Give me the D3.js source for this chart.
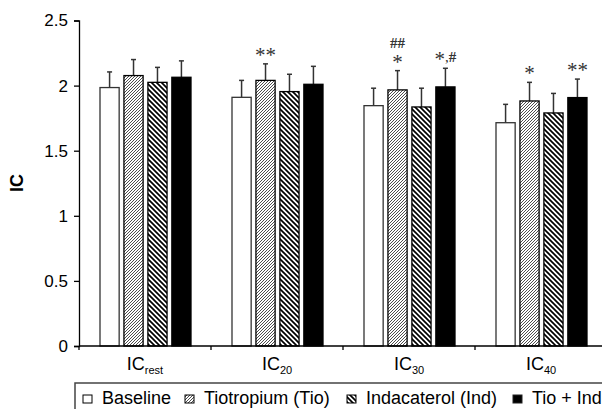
<!DOCTYPE html>
<html>
<head>
<meta charset="utf-8">
<script src="https://cdn.jsdelivr.net/npm/d3@7"></script>
<style>
  body { margin: 0; background: #fff; }
  svg { display: block; font-family: "Liberation Sans", Arial, sans-serif; }
</style>
</head>
<body>
<script>
const categories = ["rest", "20", "30", "40"];
const series = ["Baseline", "Tiotropium (Tio)", "Indacaterol (Ind)", "Tio + Ind"];
const baseline = [1.985, 1.91, 1.846, 1.715];
const tiotropium = [2.077, 2.04, 1.967, 1.882];
const indacaterol = [2.025, 1.954, 1.836, 1.79];
const tioInd = [2.064, 2.01, 1.99, 1.908];
const baselineErr = [0.12, 0.13, 0.134, 0.141];
const tiotropiumErr = [0.123, 0.127, 0.148, 0.143];
const indacaterolErr = [0.115, 0.133, 0.144, 0.15];
const tioIndErr = [0.126, 0.138, 0.143, 0.142];
// significance marks: [category index, series index, lines from top]
const marks = [
  [1, 1, ["**"]],
  [2, 1, ["##", "*"]],
  [2, 3, ["*,#"]],
  [3, 1, ["*"]],
  [3, 3, ["**"]]
];
const yTicks = [0, 0.5, 1, 1.5, 2, 2.5];

const values = [baseline, tiotropium, indacaterol, tioInd];
const errs = [baselineErr, tiotropiumErr, indacaterolErr, tioIndErr];
const fills = ["#fff", "url(#tio)", "url(#ind)", "#000"];

const W = 602, H = 409;
const svg = d3.select("body").append("svg").attr("width", W).attr("height", H);

const defs = svg.append("defs");
const pTio = defs.append("pattern").attr("id", "tio")
  .attr("patternUnits", "userSpaceOnUse").attr("width", 3).attr("height", 3);
pTio.append("rect").attr("width", 3).attr("height", 3).attr("fill", "#fff");
pTio.append("path").attr("d", "M0,3 L3,0 M-1,1 L1,-1 M2,4 L4,2")
  .attr("stroke", "#3a3a3a").attr("stroke-width", 0.9);
const pInd = defs.append("pattern").attr("id", "ind")
  .attr("patternUnits", "userSpaceOnUse").attr("width", 5).attr("height", 5);
pInd.append("rect").attr("width", 5).attr("height", 5).attr("fill", "#fff");
pInd.append("path").attr("d", "M0,0 L5,5 M-1,4 L1,6 M4,-1 L6,1")
  .attr("stroke", "#000").attr("stroke-width", 1.7);

const x0 = d3.scaleBand().domain(categories).range([79, 607]);
const x1 = d3.scaleBand().domain(d3.range(series.length)).range([21, 112]).paddingInner(0.2);
const y = d3.scaleLinear().domain([0, 2.5]).range([346, 20.5]);

// y axis
const yAxis = svg.append("g").attr("transform", "translate(79,0)")
  .call(d3.axisLeft(y).tickValues(yTicks).tickSize(5).tickPadding(6)
    .tickFormat(d => d3.format("")(d)));
yAxis.select(".domain").attr("stroke", "#000").attr("stroke-width", 1.3);
yAxis.selectAll(".tick line").attr("stroke", "#000").attr("stroke-width", 1.3);
yAxis.selectAll(".tick text").attr("font-size", 17).attr("fill", "#000")
  .attr("font-family", "Liberation Sans, Arial, sans-serif");

svg.append("text").attr("transform", "translate(23,183) rotate(-90)")
  .attr("text-anchor", "middle").attr("font-size", 18).attr("font-weight", "bold")
  .text("IC");

// groups
const groups = svg.append("g").selectAll("g").data(categories).join("g")
  .attr("transform", d => `translate(${x0(d)},0)`);

groups.each(function(c, ci) {
  const g = d3.select(this);
  series.forEach((s, si) => {
    const v = values[si][ci], e = errs[si][ci];
    const bx = x1(si), bw = x1.bandwidth(), cx = bx + bw / 2;
    g.append("line").attr("x1", cx).attr("x2", cx)
      .attr("y1", y(v)).attr("y2", y(v + e))
      .attr("stroke", "#333").attr("stroke-width", 1.5);
    g.append("line").attr("x1", cx - 2.5).attr("x2", cx + 2.5)
      .attr("y1", y(v + e)).attr("y2", y(v + e))
      .attr("stroke", "#333").attr("stroke-width", 1.5);
    g.append("rect").attr("x", bx).attr("y", y(v))
      .attr("width", bw).attr("height", y(0) - y(v))
      .attr("fill", fills[si]).attr("stroke", si === 0 ? "#333" : "#000")
      .attr("stroke-width", 1.3);
  });
});

// significance marks: asterisks drawn large (they sit high in the glyph box), # and , smaller
marks.forEach(([ci, si, lines]) => {
  const cx = x0(categories[ci]) + x1(si) + x1.bandwidth() / 2;
  const top = y(values[si][ci] + errs[si][ci]);
  lines.slice().reverse().forEach((t, k) => {
    const bottom = top - 4 - k * 17;
    const txt = svg.append("text").attr("x", cx).attr("y", bottom)
      .attr("text-anchor", "middle")
      .attr("font-family", "Liberation Serif, Times New Roman, serif")
      .attr("fill", "#333");
    let cur = 0;
    t.split("").forEach(ch => {
      const star = ch === "*";
      const off = star ? 2 : -2;
      txt.append("tspan").attr("dy", off - cur)
        .attr("font-size", star ? 21 : 15)
        .attr("font-weight", ch === "#" ? "bold" : "normal")
        .text(ch);
      cur = off;
    });
  });
});

// x axis
const xAxis = svg.append("g").attr("transform", `translate(0,${y(0)})`);
xAxis.append("line").attr("x1", 79).attr("x2", 607).attr("stroke", "#000").attr("stroke-width", 1.3);
xAxis.selectAll(".tk").data(categories).join("line").attr("class", "tk")
  .attr("x1", d => x0(d)).attr("x2", d => x0(d)).attr("y1", 0).attr("y2", 4)
  .attr("stroke", "#000").attr("stroke-width", 1.3);
const xl = xAxis.selectAll(".lab").data(categories).join("text").attr("class", "lab")
  .attr("x", d => x0(d) + x0.bandwidth() / 2).attr("y", 24)
  .attr("text-anchor", "middle").attr("font-size", 18);
xl.append("tspan").text("IC");
xl.append("tspan").attr("font-size", 11).attr("dy", 4).text(d => d);

// legend
const lg = svg.append("g");
lg.append("path").attr("d", "M75,412 V383 H610").attr("fill", "none")
  .attr("stroke", "#444").attr("stroke-width", 1.5);
const legendX = [83, 185, 347, 513];
series.forEach((s, si) => {
  lg.append("rect").attr("x", legendX[si]).attr("y", 395).attr("width", 9).attr("height", 8)
    .attr("fill", fills[si]).attr("stroke", si === 3 ? "#222" : "#000").attr("stroke-width", 1);
  lg.append("text").attr("x", legendX[si] + 19).attr("y", 404).attr("font-size", 18)
    .attr("fill", "#000").text(s);
});
</script>
</body>
</html>
